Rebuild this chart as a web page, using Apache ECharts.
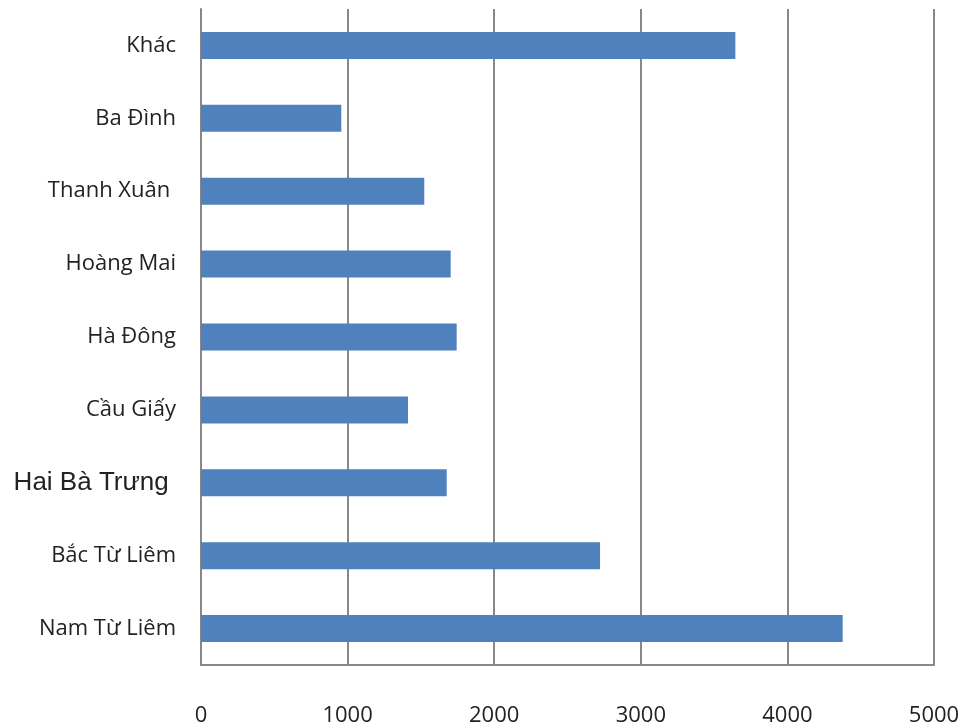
<!DOCTYPE html>
<html>
<head>
<meta charset="utf-8">
<script src="https://cdn.jsdelivr.net/npm/echarts@6/dist/echarts.min.js"></script>
<style>
  html, body { margin: 0; padding: 0; background: #ffffff; }
  #chart { width: 966px; height: 727px; }
</style>
</head>
<body>
<div id="chart"></div>
<script>
// Districts, listed bottom to top as the category axis draws them
const districts = ['Nam Từ Liêm', 'Bắc Từ Liêm', 'Hai Bà Trưng ', 'Cầu Giấy', 'Hà Đông', 'Hoàng Mai', 'Thanh Xuân ', 'Ba Đình', 'Khác'];
const counts = [4377, 2722, 1676, 1412, 1744, 1703, 1523, 957, 3645];
const xTicks = [0, 1000, 2000, 3000, 4000, 5000];

const chart = echarts.init(document.getElementById('chart'), null, { renderer: 'canvas' });

chart.setOption({
  animation: false,
  backgroundColor: '#ffffff',
  grid: { left: 201, right: 32, top: 9, bottom: 62, containLabel: false },
  xAxis: {
    type: 'value',
    min: xTicks[0],
    max: xTicks[xTicks.length - 1],
    interval: xTicks[1] - xTicks[0],
    axisLine: { show: true, lineStyle: { color: '#888888', width: 2 } },
    axisTick: { show: false },
    splitLine: { show: true, lineStyle: { color: '#888888', width: 2 } },
    axisLabel: {
      margin: 40,
      color: '#222222',
      fontFamily: 'Open Sans',
      fontSize: 22,
      showMinLabel: true,
      showMaxLabel: true,
      formatter: function (v) { return String(v); }
    }
  },
  yAxis: {
    type: 'category',
    data: districts,
    axisLine: { show: true, lineStyle: { color: '#888888', width: 2 } },
    axisTick: { show: false },
    splitLine: { show: false },
    axisLabel: {
      margin: 25,
      color: '#222222',
      fontFamily: 'Open Sans',
      fontSize: 22,
      formatter: function (v) {
        return v.trim() === 'Hai Bà Trưng' ? '{big|' + v + '}' : v;
      },
      rich: {
        big: { fontFamily: 'Liberation Sans', fontSize: 26, color: '#222222' }
      }
    }
  },
  series: [{
    type: 'bar',
    data: counts,
    barWidth: 27,
    itemStyle: { color: '#4f81bd' }
  }]
});
</script>
</body>
</html>
